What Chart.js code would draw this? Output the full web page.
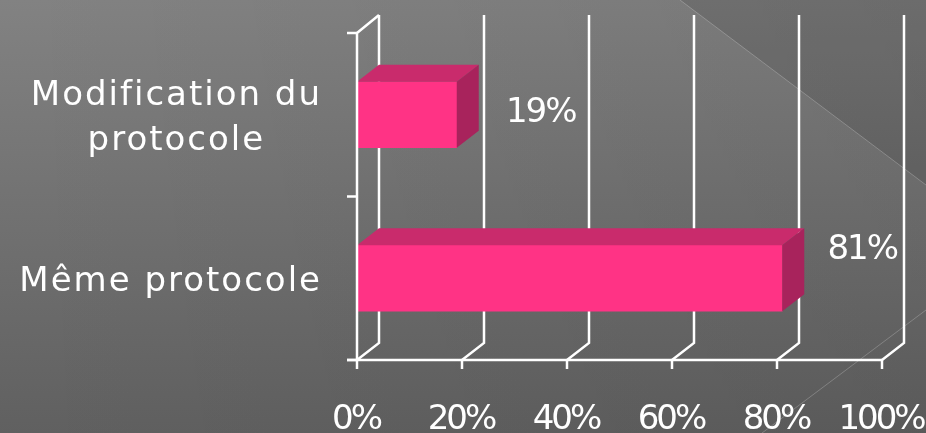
<!DOCTYPE html>
<html>
<head>
<meta charset="utf-8">
<script src="https://cdn.jsdelivr.net/npm/chart.js@4/dist/chart.umd.min.js"></script>
<style>
html,body{margin:0;padding:0;background:#707070;overflow:hidden;}
canvas{display:block;}
</style>
</head>
<body>
<canvas id="c" width="926" height="433"></canvas>
<script>
// ---- data ----
const categories = [['Modification du', 'protocole'], ['Même protocole']];
const values = [19, 81];
const valueLabels = ['19%', '81%'];
const xTickValues = [0, 20, 40, 60, 80, 100];
const xTickLabels = ['0%', '20%', '40%', '60%', '80%', '100%'];

// ---- style ----
const FRONT = '#ff3385', TOP = '#c92b6c', SIDE = '#a8235c';
const DX = 22, DY = -17;        // depth offset
const FONT = '"DejaVu Sans", sans-serif';

const bg = {
  id: 'bg',
  beforeDraw(chart) {
    const ctx = chart.ctx, W = chart.width, H = chart.height;
    ctx.save();
    let g = ctx.createLinearGradient(0, 0, 0, H);
    g.addColorStop(0, '#828282');
    g.addColorStop(1, '#606060');
    ctx.fillStyle = g; ctx.fillRect(0, 0, W, H);
    let h = ctx.createLinearGradient(0, 0, W, 0);
    h.addColorStop(0, 'rgba(0,0,0,0)');
    h.addColorStop(1, 'rgba(0,0,0,0.07)');
    ctx.fillStyle = h; ctx.fillRect(0, 0, W, H);
    ctx.beginPath(); ctx.moveTo(680, 0); ctx.lineTo(W, 0); ctx.lineTo(W, 185); ctx.closePath();
    ctx.fillStyle = 'rgba(0,0,0,0.10)'; ctx.fill();
    ctx.strokeStyle = 'rgba(255,255,255,0.22)'; ctx.lineWidth = 1;
    ctx.beginPath(); ctx.moveTo(680, 0); ctx.lineTo(W, 185); ctx.stroke();
    ctx.beginPath(); ctx.moveTo(W, 310); ctx.lineTo(762, H); ctx.stroke();
    ctx.restore();
  }
};

const threeD = {
  id: 'threeD',
  beforeDatasetsDraw(chart) {
    const ctx = chart.ctx, xs = chart.scales.x, a = chart.chartArea;
    const backTop = a.top + DY - 1;
    ctx.save();
    ctx.strokeStyle = '#ffffff'; ctx.lineWidth = 2.5; ctx.lineCap = 'butt';
    xTickValues.forEach(v => {
      const x = xs.getPixelForValue(v);
      ctx.beginPath();
      ctx.moveTo(x + DX, backTop);
      ctx.lineTo(x + DX, a.bottom + DY);
      ctx.lineTo(x, a.bottom);
      ctx.stroke();
    });
    ctx.restore();
  },
  afterDatasetsDraw(chart) {
    const ctx = chart.ctx, xs = chart.scales.x, ys = chart.scales.y, a = chart.chartArea;
    const meta = chart.getDatasetMeta(0);
    ctx.save();
    meta.data.forEach((bar, i) => {
      const top = bar.y - bar.height / 2, bot = bar.y + bar.height / 2;
      const x0 = bar.base, x1 = bar.x;
      ctx.fillStyle = TOP;
      ctx.beginPath();
      ctx.moveTo(x0, top); ctx.lineTo(x1, top); ctx.lineTo(x1 + DX, top + DY); ctx.lineTo(x0 + DX, top + DY);
      ctx.closePath(); ctx.fill();
      ctx.fillStyle = SIDE;
      ctx.beginPath();
      ctx.moveTo(x1, top); ctx.lineTo(x1 + DX, top + DY); ctx.lineTo(x1 + DX, bot + DY); ctx.lineTo(x1, bot);
      ctx.closePath(); ctx.fill();
    });
    ctx.strokeStyle = '#ffffff'; ctx.lineWidth = 2.5;
    ctx.beginPath();
    ctx.moveTo(a.left, a.top); ctx.lineTo(a.left, a.bottom + 1);
    ctx.moveTo(a.left - 10, a.bottom); ctx.lineTo(a.right, a.bottom);
    ctx.moveTo(a.left, a.top); ctx.lineTo(a.left + DX, a.top + DY - 1);
    ctx.stroke();
    const n = categories.length;
    for (let k = 0; k <= n; k++) {
      const y = a.top + (a.bottom - a.top) * k / n;
      ctx.beginPath(); ctx.moveTo(a.left - 10, y); ctx.lineTo(a.left, y); ctx.stroke();
    }
    xTickValues.forEach(v => {
      const x = xs.getPixelForValue(v);
      ctx.beginPath(); ctx.moveTo(x, a.bottom); ctx.lineTo(x, a.bottom + 9); ctx.stroke();
    });
    ctx.fillStyle = '#ffffff';
    ctx.textBaseline = 'alphabetic';
    // x tick labels
    ctx.font = '34px ' + FONT;
    ctx.letterSpacing = '-3px';
    ctx.textAlign = 'center';
    xTickValues.forEach((v, i) => {
      ctx.fillText(xTickLabels[i], xs.getPixelForValue(v) - 1, a.bottom + 69);
    });
    // category labels: block right-aligned, lines centred within block
    ctx.font = '34px ' + FONT;
    ctx.letterSpacing = '2px';
    ctx.textAlign = 'center';
    const lh = 45, rightEdge = 322;
    categories.forEach((lines, i) => {
      const yc = ys.getPixelForValue(i);
      const maxW = Math.max(...lines.map(l => ctx.measureText(l).width));
      const cx = rightEdge - maxW / 2;
      const blockH = 24 + (lines.length - 1) * lh;
      const base = yc - blockH / 2 + 24 + 1;
      lines.forEach((ln, j) => ctx.fillText(ln, cx, base + j * lh));
    });
    // value labels
    ctx.font = '34px ' + FONT;
    ctx.letterSpacing = '-2px';
    ctx.textAlign = 'center';
    const yOff = [7, -19];
    const xOff = [84, 80];
    meta.data.forEach((bar, i) => {
      ctx.fillText(valueLabels[i], bar.x + xOff[i], bar.y + yOff[i]);
    });
    ctx.restore();
  }
};

new Chart(document.getElementById('c'), {
  type: 'bar',
  data: {
    labels: categories,
    datasets: [{
      data: values,
      backgroundColor: FRONT,
      borderWidth: 0,
      barThickness: 66
    }]
  },
  options: {
    indexAxis: 'y',
    responsive: false,
    animation: false,
    events: [],
    layout: { padding: { top: 33, right: 44, left: 0, bottom: 0 } },
    plugins: { legend: { display: false }, tooltip: { enabled: false } },
    scales: {
      x: {
        type: 'linear', min: 0, max: 100,
        grid: { display: false }, border: { display: false },
        ticks: { display: false, stepSize: 20 },
        afterFit: s => { s.height = 73; }
      },
      y: {
        grid: { display: false }, border: { display: false },
        ticks: { display: false },
        afterFit: s => { s.width = 357; }
      }
    }
  },
  plugins: [bg, threeD]
});
</script>
</body>
</html>
